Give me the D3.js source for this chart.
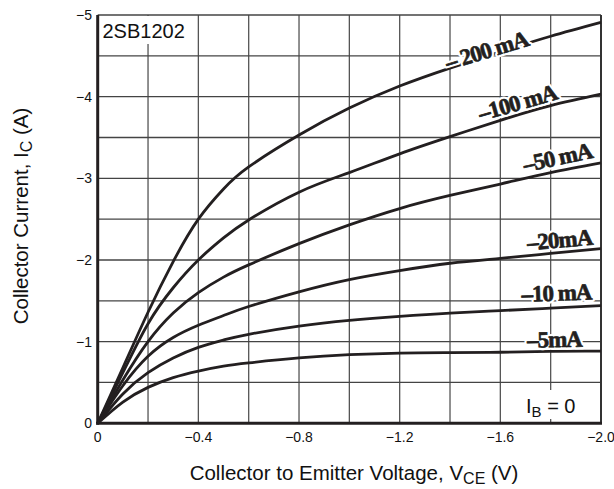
<!DOCTYPE html>
<html>
<head>
<meta charset="utf-8">
<script src="https://cdn.jsdelivr.net/npm/d3@7"></script>
<style>
  html, body { margin: 0; padding: 0; background: #fff; }
  svg { display: block; }
</style>
</head>
<body>
<svg id="chart" width="614" height="489"></svg>
<script>
// ---- data ----
const vce = [0, -0.1, -0.2, -0.3, -0.4, -0.5, -0.6, -0.8, -1.0, -1.2, -1.4, -1.6, -1.8, -2.0];
const ic_200 = [0, -0.68, -1.36, -1.98, -2.50, -2.87, -3.14, -3.53, -3.86, -4.13, -4.35, -4.55, -4.74, -4.91];
const ic_100 = [0, -0.62, -1.22, -1.66, -2.00, -2.27, -2.49, -2.83, -3.07, -3.30, -3.51, -3.71, -3.89, -4.03];
const ic_50  = [0, -0.53, -1.00, -1.35, -1.60, -1.79, -1.94, -2.20, -2.43, -2.63, -2.79, -2.93, -3.07, -3.19];
const ic_20  = [0, -0.46, -0.82, -1.05, -1.20, -1.32, -1.43, -1.61, -1.76, -1.87, -1.96, -2.02, -2.08, -2.14];
const ic_10  = [0, -0.36, -0.62, -0.80, -0.93, -1.02, -1.09, -1.19, -1.26, -1.31, -1.35, -1.38, -1.41, -1.44];
const ic_5   = [0, -0.26, -0.44, -0.56, -0.64, -0.70, -0.74, -0.80, -0.84, -0.86, -0.865, -0.87, -0.88, -0.885];
const seriesNames = ["– 200 mA", "–100 mA", "–50 mA", "–20mA", "–10 mA", "–5mA"];
const xTicks = [0, -0.4, -0.8, -1.2, -1.6, -2.0];
const xTickLabels = ["0", "−0.4", "−0.8", "−1.2", "−1.6", "−2.0"];
const yTicks = [0, -1, -2, -3, -4, -5];
const yTickLabels = ["0", "−1", "−2", "−3", "−4", "−5"];
const xGrid = [-0.2, -0.4, -0.6, -0.8, -1.0, -1.2, -1.4, -1.6, -1.8];
const yGrid = [-0.5, -1, -1.5, -2, -2.5, -3, -3.5, -4, -4.5];

// label anchors (data coordinates) and rotation
const labelV = [-1.545, -1.668, -1.827, -1.835, -1.823, -1.815];
const labelI = [-4.57, -3.93, -3.26, -2.25, -1.60, -1.03];
const labelRot = [-17, -16, -12, -5, -2, -1];

// ---- layout ----
const L = 97.7, R = 601, T = 15, B = 423.3;
const svg = d3.select("#chart");
const x = d3.scaleLinear().domain([0, -2.0]).range([L, R]);
const y = d3.scaleLinear().domain([0, -5]).range([B, T]);

// grid
const g = svg.append("g");
g.selectAll("line.vg").data(xGrid).enter().append("line")
  .attr("x1", d => x(d)).attr("x2", d => x(d)).attr("y1", T).attr("y2", B)
  .attr("stroke", "#555").attr("stroke-width", 1.3);
g.selectAll("line.hg").data(yGrid).enter().append("line")
  .attr("x1", L).attr("x2", R).attr("y1", d => y(d)).attr("y2", d => y(d))
  .attr("stroke", "#444").attr("stroke-width", 1.3);

// title box
svg.append("rect").attr("x", L + 1).attr("y", T + 1).attr("width", 92).attr("height", 28).attr("fill", "#fff");
svg.append("text").attr("x", 102.5).attr("y", 38).attr("font-family", "Liberation Sans, Arial, sans-serif")
  .attr("font-size", 20).attr("fill", "#111").text("2SB1202");

// IB = 0 box
svg.append("rect").attr("x", 522).attr("y", 390).attr("width", 54).attr("height", 29).attr("fill", "#fff");
const ib = svg.append("text").attr("x", 526).attr("y", 413).attr("font-family", "Liberation Sans, Arial, sans-serif")
  .attr("font-size", 20).attr("fill", "#111");
ib.append("tspan").text("I");
ib.append("tspan").attr("font-size", 15).attr("dy", 4).text("B");
ib.append("tspan").attr("dy", -4).text(" = 0");

// frame
svg.append("line").attr("x1", L).attr("x2", R).attr("y1", T).attr("y2", T).attr("stroke", "#444").attr("stroke-width", 1.6);
svg.append("line").attr("x1", R).attr("x2", R).attr("y1", T).attr("y2", B).attr("stroke", "#333").attr("stroke-width", 2);
svg.append("line").attr("x1", L).attr("x2", L).attr("y1", T).attr("y2", B + 1.5).attr("stroke", "#231f20").attr("stroke-width", 3);
svg.append("line").attr("x1", L - 1.5).attr("x2", R + 1).attr("y1", B).attr("y2", B).attr("stroke", "#231f20").attr("stroke-width", 3);

// curves
const allSeries = [ic_200, ic_100, ic_50, ic_20, ic_10, ic_5];
const line = d3.line().x(d => x(d[0])).y(d => y(d[1])).curve(d3.curveNatural);
svg.selectAll("path.curve").data(allSeries).enter().append("path")
  .attr("d", s => line(vce.map((v, i) => [v, s[i]])))
  .attr("fill", "none").attr("stroke", "#231f20").attr("stroke-width", 2.8);

// series labels (halo then ink)
const lblTf = (d, i) => `translate(${x(labelV[i])},${y(labelI[i])}) rotate(${labelRot[i]})`;
["halo", "ink"].forEach(layer => {
  svg.selectAll("text.lbl-" + layer).data(seriesNames).enter().append("text")
    .attr("class", "lbl-" + layer)
    .attr("transform", lblTf)
    .attr("text-anchor", "middle").attr("dy", "0.35em")
    .attr("font-family", "Liberation Serif, Times New Roman, serif").attr("font-weight", "bold")
    .attr("font-size", 23).attr("letter-spacing", -1)
    .attr("fill", "#231f20")
    .attr("stroke", layer === "halo" ? "#fff" : "#231f20")
    .attr("stroke-width", layer === "halo" ? 5 : 0.7)
    .attr("stroke-linejoin", "round")
    .text(d => d);
});

// tick labels
svg.selectAll("text.xt").data(xTicks).enter().append("text")
  .attr("x", d => x(d)).attr("y", 442).attr("text-anchor", "middle")
  .attr("font-family", "Liberation Sans, Arial, sans-serif").attr("font-size", 14).attr("fill", "#111")
  .text((d, i) => xTickLabels[i]);
svg.selectAll("text.yt").data(yTicks).enter().append("text")
  .attr("x", 92).attr("y", d => y(d)).attr("dy", "0.35em").attr("text-anchor", "end")
  .attr("font-family", "Liberation Sans, Arial, sans-serif").attr("font-size", 14).attr("fill", "#111")
  .text((d, i) => yTickLabels[i]);

// axis titles
const xt = svg.append("text").attr("x", 354).attr("y", 480).attr("text-anchor", "middle")
  .attr("font-family", "Liberation Sans, Arial, sans-serif").attr("font-size", 20.5).attr("fill", "#111");
xt.append("tspan").text("Collector to Emitter Voltage, V");
xt.append("tspan").attr("font-size", 16).attr("dy", 4).text("CE");
xt.append("tspan").attr("dy", -4).text(" (V)");

const yt = svg.append("text").attr("transform", `translate(28,216) rotate(-90)`).attr("text-anchor", "middle")
  .attr("font-family", "Liberation Sans, Arial, sans-serif").attr("font-size", 20.5).attr("fill", "#111");
yt.append("tspan").text("Collector Current, I");
yt.append("tspan").attr("font-size", 16).attr("dy", 4).text("C");
yt.append("tspan").attr("dy", -4).text(" (A)");
</script>
</body>
</html>
